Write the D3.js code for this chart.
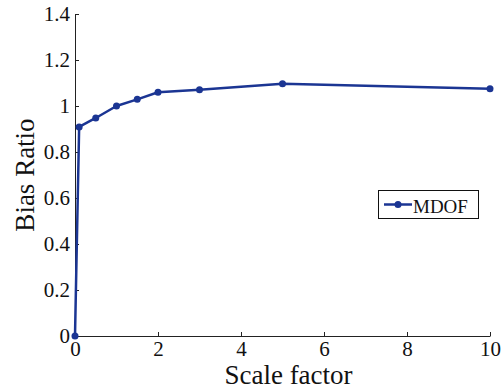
<!DOCTYPE html>
<html><head><meta charset="utf-8">
<script src="https://cdn.jsdelivr.net/npm/d3@7"></script>
<style>body{margin:0;background:#fff}svg{display:block}</style>
</head><body>
<script>
const xValues = [0, 0.1, 0.5, 1, 1.5, 2, 3, 5, 10];
const biasRatio = [0, 0.909, 0.948, 1.0, 1.029, 1.06, 1.071, 1.097, 1.075];
const xTicks = [0, 2, 4, 6, 8, 10];
const yTicks = [0, 0.2, 0.4, 0.6, 0.8, 1, 1.2, 1.4];
const seriesName = "MDOF";

const W = 504, H = 389;
const color = "#1b3593";
const font = '"Liberation Serif", "Times New Roman", serif';
const svg = d3.select("body").append("svg").attr("width", W).attr("height", H);

const x = d3.scaleLinear().domain([0, 10]).range([75, 490]);
const y = d3.scaleLinear().domain([0, 1.4]).range([336, 14]);

const xAxis = svg.append("g").attr("transform", `translate(0,${y(0)})`)
  .call(d3.axisBottom(x).tickValues(xTicks).tickFormat(d3.format("~g")).tickSizeInner(-4).tickSizeOuter(0).tickPadding(5));
const yAxis = svg.append("g").attr("transform", `translate(${x(0)},0)`)
  .call(d3.axisLeft(y).tickValues(yTicks).tickFormat(d3.format("~g")).tickSizeInner(-4).tickSizeOuter(0).tickPadding(5));
[xAxis, yAxis].forEach(g => {
  g.attr("font-family", null);
  g.select(".domain").attr("stroke", "#222").attr("stroke-width", 1);
  g.selectAll(".tick line").attr("stroke", "#222");
  g.selectAll("text").style("font-family", font).style("font-size", "21px").attr("fill", "#111");
});
xAxis.selectAll("text").attr("dy", "0.71em");

svg.append("text").attr("x", x(5) + 6).attr("y", 384).attr("text-anchor", "middle")
  .style("font-family", font).style("font-size", "27px").attr("fill", "#111").text("Scale factor");
svg.append("text").attr("transform", `translate(34,${y(0.7)}) rotate(-90)`).attr("text-anchor", "middle")
  .style("font-family", font).style("font-size", "27px").attr("fill", "#111").text("Bias Ratio");

const data = xValues.map((v, i) => [v, biasRatio[i]]);
svg.append("path").datum(data)
  .attr("d", d3.line().x(d => x(d[0])).y(d => y(d[1])))
  .attr("fill", "none").attr("stroke", color).attr("stroke-width", 2.5).attr("stroke-linejoin", "round");
svg.selectAll("circle.pt").data(data).enter().append("circle").attr("class", "pt")
  .attr("cx", d => x(d[0])).attr("cy", d => y(d[1])).attr("r", 3.5).attr("fill", color);

const lg = svg.append("g");
lg.append("rect").attr("x", 378.5).attr("y", 190.5).attr("width", 100).attr("height", 28)
  .attr("fill", "#fff").attr("stroke", "#111").attr("stroke-width", 1);
lg.append("line").attr("x1", 384).attr("x2", 412).attr("y1", 204.5).attr("y2", 204.5)
  .attr("stroke", color).attr("stroke-width", 2.5);
lg.append("circle").attr("cx", 398).attr("cy", 204.5).attr("r", 3.5).attr("fill", color);
lg.append("text").attr("x", 413).attr("y", 213).style("font-family", font).style("font-size", "19px")
  .attr("fill", "#111").text(seriesName);
</script>
</body></html>
